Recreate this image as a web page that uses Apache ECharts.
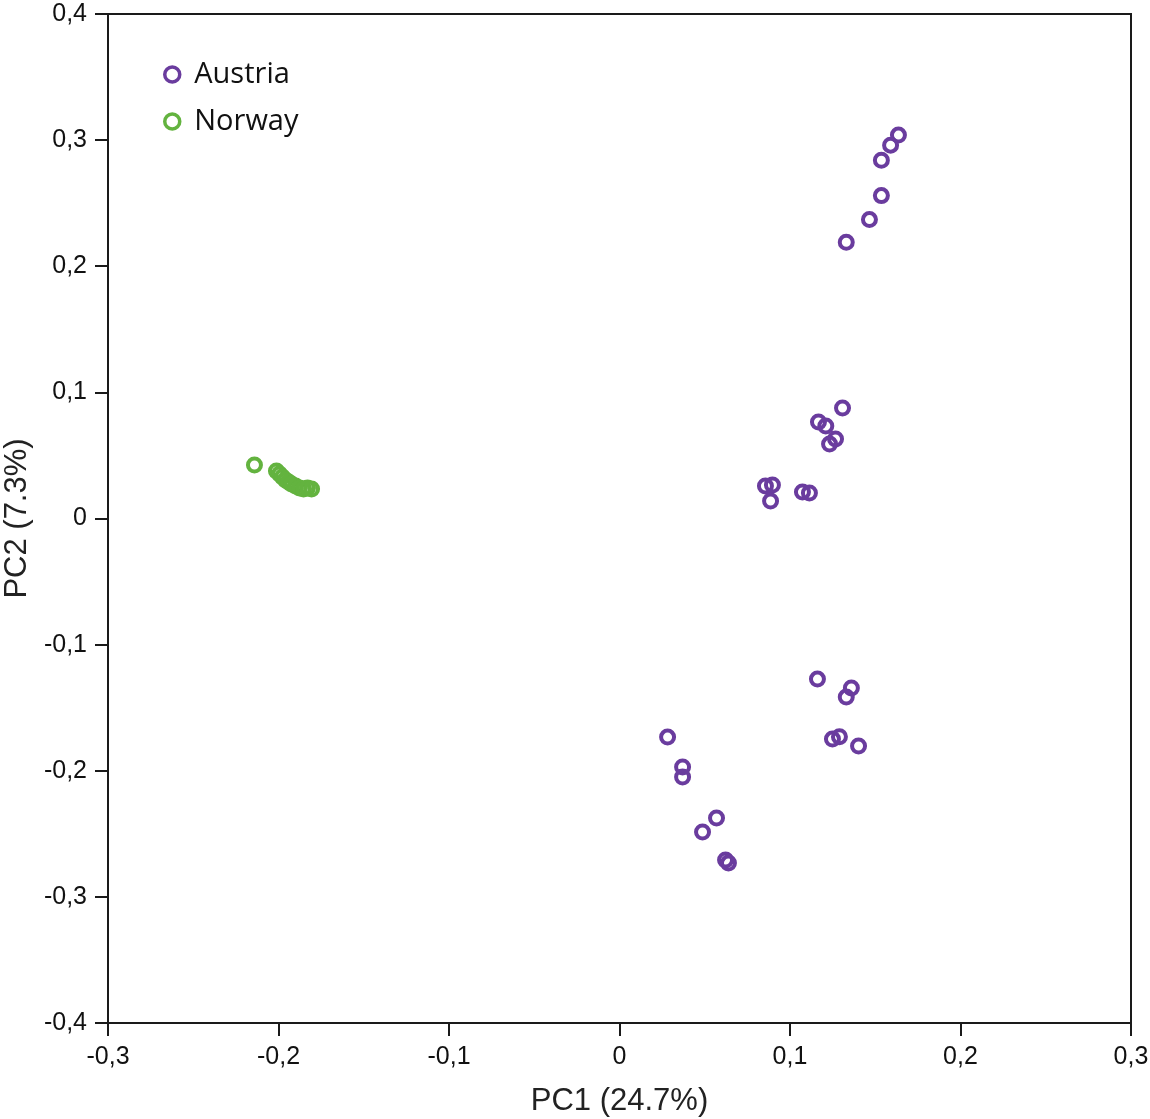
<!DOCTYPE html>
<html><head><meta charset="utf-8">
<script src="https://cdn.jsdelivr.net/npm/echarts@6/dist/echarts.min.js"></script>
<style>html,body{margin:0;padding:0;background:#fff}#c{width:1150px;height:1119px}</style>
</head><body><div id="c"></div>
<script>
const seriesNames = ['Austria', 'Norway'];
const austriaPC1 = [0.1636,0.159,0.1536,0.1536,0.1466,0.133,
  0.1308,0.1167,0.121,0.1267,0.1232,0.0856,0.0897,0.0886,0.1073,0.1114,
  0.1161,0.136,0.133,0.1249,0.129,0.1402,0.0282,0.037,0.037,0.0569,0.0487,0.0622,0.0639];
const austriaPC2 = [0.304,0.296,0.284,0.256,0.237,0.219,
  0.0876,0.0765,0.0733,0.063,0.059,0.0258,0.0266,0.0139,0.021,0.0202,
  -0.1273,-0.1344,-0.1416,-0.1749,-0.173,-0.1804,-0.1733,-0.197,-0.205,-0.2375,-0.2486,-0.2708,-0.2732];
const norwayPC1 = [-0.2141,-0.2012,-0.1994,-0.1977,-0.1959,-0.1941,-0.1924,-0.19,-0.1877,-0.1853,-0.183,-0.1806];
const norwayPC2 = [0.0424,0.0377,0.0353,0.0329,0.0305,0.0289,0.0274,0.0258,0.0242,0.0234,0.0242,0.0234];
const xTicks = [-0.3,-0.2,-0.1,0,0.1,0.2,0.3];
const yTicks = [-0.4,-0.3,-0.2,-0.1,0,0.1,0.2,0.3,0.4];
const colors = ['#6a3c9e', '#63b33f'];

const zip = (a, b) => a.map((v, i) => [v, b[i]]);
const fmt = v => {
  const r = Math.round(v * 10) / 10;
  return r === 0 ? '0' : String(r).replace('.', ',');
};
const axisCommon = {
  axisLine: {show: true, onZero: false, lineStyle: {color: '#1a1a1a', width: 2}},
  axisTick: {show: true, inside: false, length: 13, lineStyle: {color: '#1a1a1a', width: 2}},
  splitLine: {show: false},
  axisLabel: {color: '#111', fontFamily: 'Liberation Sans', fontSize: 25, formatter: fmt},
  nameLocation: 'middle',
  nameTextStyle: {color: '#222', fontFamily: 'Liberation Sans', fontSize: 31}
};
const chart = echarts.init(document.getElementById('c'), null, {renderer: 'canvas'});
chart.setOption({
  animation: false,
  backgroundColor: '#fff',
  grid: {left: 108, right: 19, top: 14, bottom: 96, containLabel: false, outerBoundsMode: 'none',
    show: true, borderColor: '#1a1a1a', borderWidth: 2, backgroundColor: 'transparent'},
  legend: {
    orient: 'vertical', left: 158, top: 55, itemWidth: 34, itemHeight: 15, itemGap: 18,
    symbolKeepAspect: true,
    textStyle: {fontFamily: 'Open Sans', fontSize: 29, color: '#111'},
    data: seriesNames.map((n, i) => ({name: n, icon: 'circle',
      itemStyle: {color: 'rgba(0,0,0,0)', borderColor: colors[i], borderWidth: 3.5}}))
  },
  xAxis: Object.assign({}, axisCommon, {
    type: 'value', min: -0.3, max: 0.3, interval: 0.1, name: 'PC1 (24.7%)', nameGap: 63,
    axisLabel: Object.assign({}, axisCommon.axisLabel, {margin: 22})
  }),
  yAxis: Object.assign({}, axisCommon, {
    type: 'value', min: -0.4, max: 0.4, interval: 0.1, name: 'PC2 (7.3%)', nameGap: 72,
    axisLabel: Object.assign({}, axisCommon.axisLabel, {margin: 21})
  }),
  series: [
    {name: seriesNames[0], type: 'scatter', symbol: 'circle', symbolSize: 13,
     itemStyle: {color: 'rgba(0,0,0,0)', borderColor: colors[0], borderWidth: 4, opacity: 1},
     data: zip(austriaPC1, austriaPC2)},
    {name: seriesNames[1], type: 'scatter', symbol: 'circle', symbolSize: 13,
     itemStyle: {color: 'rgba(0,0,0,0)', borderColor: colors[1], borderWidth: 4, opacity: 1},
     data: zip(norwayPC1, norwayPC2)}
  ]
});
</script></body></html>
